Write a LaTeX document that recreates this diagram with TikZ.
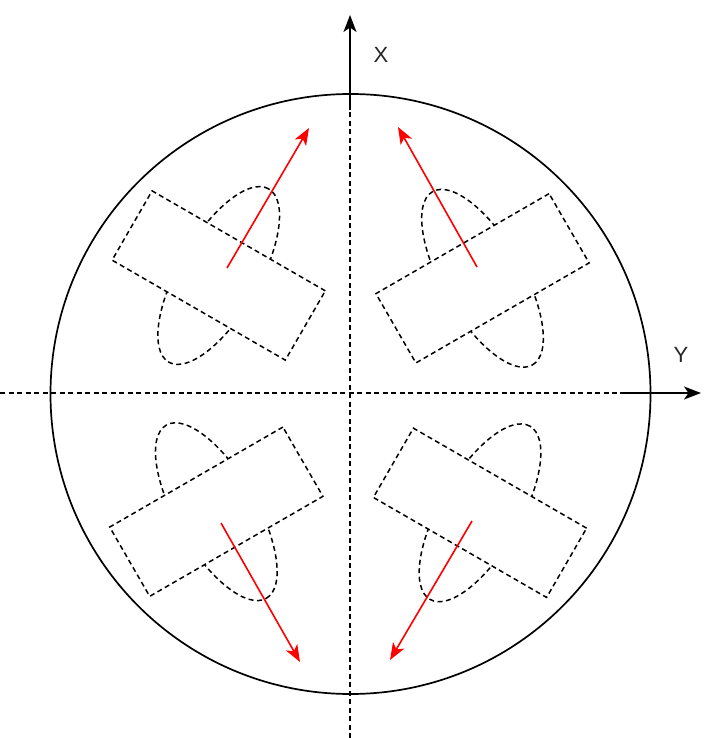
\documentclass[tikz,border=0pt]{standalone}
\usepackage{fontspec}
\setmainfont{Liberation Sans}
\usetikzlibrary{arrows.meta,shapes.geometric}
\tikzset{
  dsh/.style={dash pattern=on 5pt off 3.5pt, line width=1.5pt},
  blob/.style={draw, dsh, ellipse, minimum width=200pt, minimum height=80pt, inner sep=0pt},
  plate/.style={draw, dsh, fill=white, rectangle, minimum width=200pt, minimum height=80pt, inner sep=0pt},
  axarrow/.style={line width=1.6pt, -{Stealth[length=17pt,width=13pt,inset=4.5pt]}},
  redarrow/.style={red, line width=1.6pt, -{Stealth[length=17pt,width=13pt,inset=4.5pt]}},
  lbl/.style={font=\fontsize{22}{26}\selectfont, text=black!85}
}
\begin{document}
\begin{tikzpicture}[x=1pt,y=-1pt]
\useasboundingbox (0,0) rectangle (718,738);
% circle
\node[draw, circle, line width=1.7pt, minimum size=600pt, inner sep=0pt] (disc) at (350.5,394) {};
% axes
\coordinate (vb) at (350,738);
\coordinate (vm) at (350,110);
\coordinate (vt) at (350,15);
\coordinate (hl) at (0,393);
\coordinate (hm) at (620,393);
\coordinate (hr) at (701,393);
\draw[dsh] (vb) -- (vm);
\draw[axarrow] (vm) -- (vt);
\draw[dsh] (hl) -- (hm);
\draw[axarrow] (hm) -- (hr);
\node[lbl] (xl) at (381,55) {X};
\node[lbl] (yl) at (681,355) {Y};
% quadrant centres
\coordinate (ctl) at (218.7,275.5);
\coordinate (ctr) at (482.5,278.3);
\coordinate (cbl) at (216.3,511.7);
\coordinate (cbr) at (480,512.8);
% ellipses
\node[blob, rotate=60] (etl) at (ctl) {};
\node[blob, rotate=-60] (etr) at (ctr) {};
\node[blob, rotate=-60] (ebl) at (cbl) {};
\node[blob, rotate=60] (ebr) at (cbr) {};
% plates
\node[plate, rotate=-30] (ptl) at (ctl) {};
\node[plate, rotate=30] (ptr) at (ctr) {};
\node[plate, rotate=30] (pbl) at (cbl) {};
\node[plate, rotate=-30] (pbr) at (cbr) {};
% red arrows
\coordinate (a1s) at (227,268); \coordinate (a1e) at (309,128);
\coordinate (a2s) at (477,267); \coordinate (a2e) at (398,127);
\coordinate (a3s) at (221,523); \coordinate (a3e) at (300,662);
\coordinate (a4s) at (472,521); \coordinate (a4e) at (390,660);
\draw[redarrow] (a1s) -- (a1e);
\draw[redarrow] (a2s) -- (a2e);
\draw[redarrow] (a3s) -- (a3e);
\draw[redarrow] (a4s) -- (a4e);
\end{tikzpicture}
\end{document}
